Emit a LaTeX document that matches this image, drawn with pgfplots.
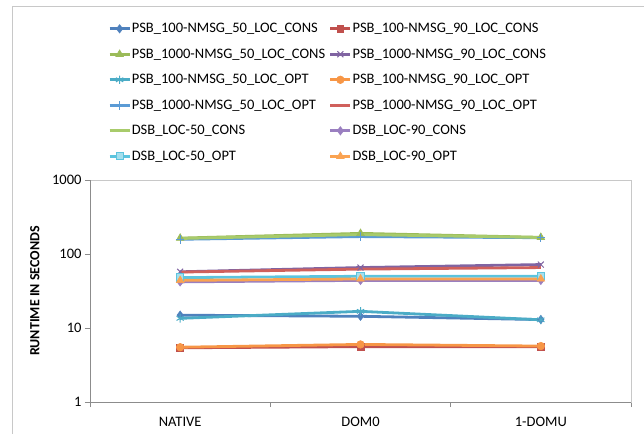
\documentclass[border=0pt]{standalone}
\usepackage{fontspec}
\setmainfont{Carlito}
\usepackage{pgfplots}
\pgfplotsset{compat=1.18}
\definecolor{cA}{HTML}{4F81BD}
\definecolor{cB}{HTML}{C0504D}
\definecolor{cC}{HTML}{9BBB59}
\definecolor{cD}{HTML}{8064A2}
\definecolor{cE}{HTML}{4BACC6}
\definecolor{cF}{HTML}{F79646}
\definecolor{cG}{HTML}{5B9BD5}
\definecolor{cH}{HTML}{D0605C}
\definecolor{cI}{HTML}{A8CB6B}
\definecolor{cJ}{HTML}{9A7FC0}
\definecolor{cK}{HTML}{5CC4DE}
\definecolor{cL}{HTML}{FAA352}
\definecolor{boxgray}{HTML}{C8C8C8}
\definecolor{axgray}{HTML}{8C8C8C}
\begin{document}
\begin{tikzpicture}
\useasboundingbox (0,0) rectangle (644pt,-433pt);
\draw[boxgray, line width=1pt] (12pt,-440pt) -- (12pt,-7pt) -- (650pt,-7pt);
\begin{axis}[
  at={(90pt,-402pt)}, anchor=south west,
  scale only axis, width=541pt, height=222pt,
  ymode=log, ymin=1, ymax=1000,
  xmin=-0.5, xmax=2.5,
  xtick={0,1,2}, xticklabels={NATIVE,DOM0,1-DOMU},
  minor xtick={-0.5,0.5,1.5,2.5},
  ytick={1,10,100,1000}, yticklabels={1,10,100,1000},
  yminorticks=false,
  tick align=outside, tick pos=left,
  major tick length=5pt, minor tick length=5pt,
  major x tick style={draw=none},
  tick style={axgray, line width=0.8pt},
  axis line style={boxgray, line width=0.8pt},
  ticklabel style={font=\fontsize{14.5}{17}\selectfont},
  xticklabel style={yshift=-7pt},
  ylabel={\bfseries RUNTIME IN SECONDS},
  ylabel style={font=\fontsize{14}{16}\selectfont, at={(axis description cs:-0.102,0.5)}, anchor=center},
  legend columns=2,
  legend cell align=left,
  legend style={draw=none, fill=none, inner sep=0pt, at={(axis description cs:0.0333,1)}, anchor=north west, yshift=158.4pt,
    font=\fontsize{14.5}{17}\selectfont,
    nodes={inner ysep=0pt, inner xsep=0.8pt, text height=11pt, text depth=3pt},
    /tikz/row sep=11.5pt,
    /tikz/every even column/.append style={column sep=3pt}},
  legend image code/.code={\draw[mark repeat=2,mark phase=2] plot coordinates {(0pt,0pt)(10pt,0pt)(20pt,0pt)};},
  every axis plot/.append style={line width=2.8pt},
  clip=false,
]
\addplot[cA, mark=diamond*, mark size=4.2pt, mark options={fill=cA, line width=0.6pt}] coordinates {(0,14.9)(1,14.4)(2,13.0)};
\addlegendentry{PSB\_100-NMSG\_50\_LOC\_CONS}
\addplot[cB, mark=square*, mark size=3.4pt, mark options={fill=cB, line width=0.6pt}] coordinates {(0,5.4)(1,5.6)(2,5.6)};
\addlegendentry{PSB\_100-NMSG\_90\_LOC\_CONS}
\addplot[cC, mark=triangle*, mark size=4.4pt, mark options={fill=cC, line width=0.6pt}] coordinates {(0,164)(1,190)(2,168)};
\addlegendentry{PSB\_1000-NMSG\_50\_LOC\_CONS}
\addplot[cD, mark=x, mark size=4.2pt, mark options={line width=1pt}] coordinates {(0,57.5)(1,65.6)(2,72)};
\addlegendentry{PSB\_1000-NMSG\_90\_LOC\_CONS}
\addplot[cE, mark=asterisk, mark size=4.2pt, mark options={line width=1pt}] coordinates {(0,13.5)(1,16.8)(2,12.9)};
\addlegendentry{PSB\_100-NMSG\_50\_LOC\_OPT}
\addplot[cF, mark=*, mark size=3.8pt, mark options={fill=cF, line width=0.6pt}] coordinates {(0,5.5)(1,6.0)(2,5.7)};
\addlegendentry{PSB\_100-NMSG\_90\_LOC\_OPT}
\addplot[cG, mark=+, mark size=4.2pt, mark options={line width=1pt}] coordinates {(0,158)(1,172)(2,166)};
\addlegendentry{PSB\_1000-NMSG\_50\_LOC\_OPT}
\addplot[cH, no marks] coordinates {(0,57)(1,62.5)(2,65.6)};
\addlegendentry{PSB\_1000-NMSG\_90\_LOC\_OPT}
\addplot[cI, no marks] coordinates {(0,162)(1,183)(2,167)};
\addlegendentry{DSB\_LOC-50\_CONS}
\addplot[cJ, mark=diamond*, mark size=4.2pt, mark options={fill=cJ, line width=0.6pt}] coordinates {(0,42)(1,44)(2,44)};
\addlegendentry{DSB\_LOC-90\_CONS}
\addplot[cK, mark=square*, mark size=3.6pt, mark options={fill=cK!55!white, draw=cK, line width=1pt}] coordinates {(0,48)(1,50)(2,50)};
\addlegendentry{DSB\_LOC-50\_OPT}
\addplot[cL, mark=triangle*, mark size=4.4pt, mark options={fill=cL, line width=0.6pt}] coordinates {(0,44)(1,46)(2,46)};
\addlegendentry{DSB\_LOC-90\_OPT}
\draw[axgray, line width=0.8pt] (rel axis cs:0,1) -- (rel axis cs:0,0) -- (rel axis cs:1,0);
\end{axis}
\end{tikzpicture}
\end{document}
